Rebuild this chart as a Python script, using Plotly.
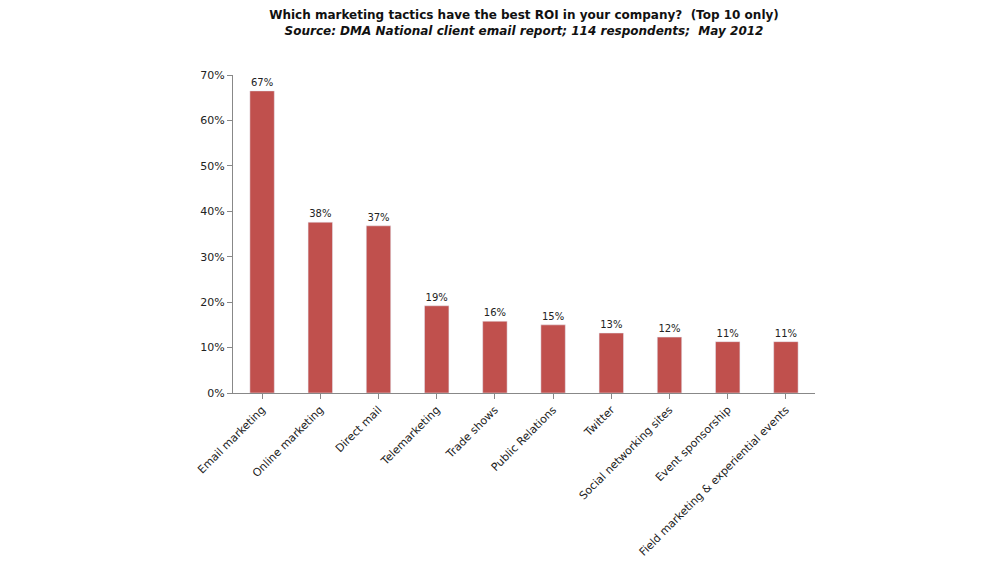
import plotly.graph_objects as go

categories = ["Email marketing", "Online marketing", "Direct mail", "Telemarketing", "Trade shows",
              "Public Relations", "Twitter", "Social networking sites", "Event sponsorship",
              "Field marketing & experiential events"]
values = [66.5, 37.6, 36.8, 19.2, 15.8, 15.0, 13.2, 12.3, 11.3, 11.3]
labels = ["67%", "38%", "37%", "19%", "16%", "15%", "13%", "12%", "11%", "11%"]

fig = go.Figure(go.Bar(
    x=categories, y=values, marker_color="#C0504D", width=0.42,
    text=labels, textposition="outside", cliponaxis=False,
    textfont=dict(family="DejaVu Sans", size=10, color="#222"),
))

fig.update_layout(
    width=1000, height=563, paper_bgcolor="white", plot_bgcolor="white",
    margin=dict(l=225, r=193, t=67, b=176),
    showlegend=False,
    font=dict(family="DejaVu Sans", size=11, color="#222"),
    title=dict(text="<b>Which marketing tactics have the best ROI in your company?  (Top 10 only)</b><br>"
                    "<b><i>Source: DMA National client email report; 114 respondents;  May 2012</i></b>",
               x=0.5, xref="paper", xanchor="center", yref="container", y=0.98, yanchor="top",
               font=dict(size=12, color="#111")),
    xaxis=dict(tickangle=-45, showline=True, linecolor="#888", ticks="outside", tickcolor="#888",
               tickfont=dict(size=11)),
    yaxis=dict(range=[0, 70], dtick=10, ticksuffix="%", showgrid=False, showline=True,
               linecolor="#888", ticks="outside", tickcolor="#888", tickfont=dict(size=11)),
)
fig.write_html("out.html")
